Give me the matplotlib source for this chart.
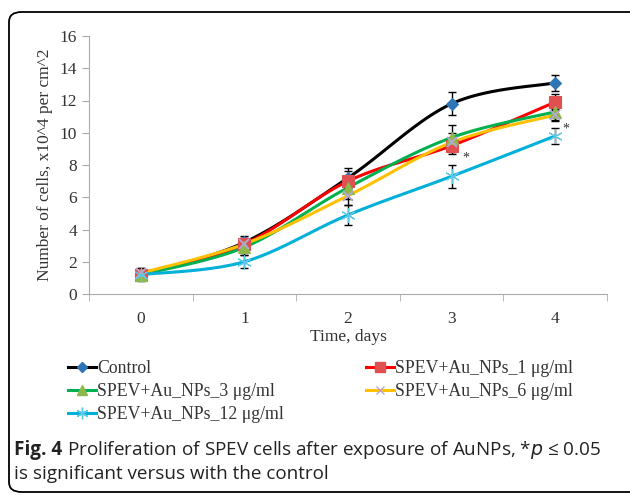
import numpy as np
import matplotlib
matplotlib.use("Agg")
import matplotlib.pyplot as plt
from matplotlib.patches import FancyBboxPatch
from matplotlib.lines import Line2D

days = [0, 1, 2, 3, 4]

control = [1.2, 3.2, 7.2, 11.8, 13.1]
control_err = [0.4, 0.4, 0.6, 0.7, 0.5]
au_1 = [1.2, 3.1, 7.0, 9.2, 11.9]
au_1_err = [0.3, 0.4, 0.6, 0.5, 0.5]
au_3 = [1.2, 2.9, 6.6, 9.7, 11.3]
au_3_err = [0.3, 0.5, 0.7, 0.8, 0.5]
au_6 = [1.3, 3.1, 6.1, 9.4, 11.1]
au_6_err = [0.3, 0.4, 0.6, 0.6, 0.4]
au_12 = [1.2, 2.0, 4.9, 7.3, 9.8]
au_12_err = [0.3, 0.4, 0.6, 0.7, 0.5]

labels = ["Control", "SPEV+Au_NPs_1 \u03bcg/ml", "SPEV+Au_NPs_3 \u03bcg/ml",
          "SPEV+Au_NPs_6 \u03bcg/ml", "SPEV+Au_NPs_12 \u03bcg/ml"]


def smooth(x, y, n=30):
    # excel style smoothed line: catmull-rom bezier between the points
    x = np.asarray(x, float)
    y = np.asarray(y, float)
    p = np.column_stack([x, y])
    out = []
    t = np.linspace(0, 1, n)[:, None]
    for i in range(len(p) - 1):
        p0 = p[max(i - 1, 0)]
        p1 = p[i]
        p2 = p[i + 1]
        p3 = p[min(i + 2, len(p) - 1)]
        c1 = p1 + (p2 - p0) / 6
        c2 = p2 - (p3 - p1) / 6
        seg = ((1 - t) ** 3) * p1 + 3 * ((1 - t) ** 2) * t * c1 + 3 * (1 - t) * t ** 2 * c2 + t ** 3 * p2
        out.append(seg)
    pts = np.vstack(out)
    return pts[:, 0], pts[:, 1]


series = [
    (control, control_err, "black", "D", "#2E75B6", 6.5),
    (au_1, au_1_err, "#FF0000", "s", "#E05050", 8.5),
    (au_3, au_3_err, "#00B050", "^", "#8DB84A", 8.5),
    (au_6, au_6_err, "#FFC000", "x", "#B4A7D6", 7.5),
    (au_12, au_12_err, "#00B0D8", (6, 2, 0), "#5BC8E8", 10.5),
]

plt.rcParams["font.family"] = ["Liberation Serif", "DejaVu Serif"]

fig = plt.figure(figsize=(6.3, 4.95), dpi=100)
ax = fig.add_axes([89 / 630, 1 - 294 / 495, (607 - 89) / 630, (294 - 36) / 495])

for vals, err, lc, mk, mc, ms in series:
    sx, sy = smooth(days, vals)
    ax.plot(sx, sy, color=lc, lw=2.2, zorder=2)
    ax.errorbar(days, vals, yerr=err, fmt="none", ecolor="black", elinewidth=1,
                capsize=3, capthick=1, zorder=3)
    ax.plot(days, vals, ls="none", marker=mk, color=mc, markersize=ms,
            markeredgewidth=1.3 if mk == "x" else 0.8, zorder=4)

ax.text(3.1, au_1[3] - 1.0, "*", fontsize=10, color="#333333")
ax.text(4.07, au_12[4] + 0.2, "*", fontsize=10, color="#333333")

ax.set_xlim(-0.5, 4.5)
ax.set_ylim(0, 16)
ax.set_yticks(range(0, 17, 2))
ax.set_xticks(days)
ax.set_xticks(np.arange(-0.5, 4.6, 1), minor=True)
ax.tick_params(axis="x", which="major", length=0, pad=12, labelsize=12.5, colors="#333333")
ax.tick_params(axis="x", which="minor", length=5, color="#AAAAAA", direction="out")
ax.tick_params(axis="y", length=5, color="#AAAAAA", labelsize=12.5, labelcolor="#333333")
for s in ["top", "right"]:
    ax.spines[s].set_visible(False)
ax.spines["left"].set_color("#AAAAAA")
ax.spines["bottom"].set_color("#AAAAAA")

ax.set_xlabel("Time, days", fontsize=12.5, color="#333333", labelpad=2)
ax.set_ylabel("Number of cells, x10^4 per cm^2", fontsize=12.5, color="#333333", labelpad=5)

handles = []
for (vals, err, lc, mk, mc, ms), lab in zip(series, labels):
    handles.append(Line2D([], [], color=lc, lw=2.2, marker=mk, markerfacecolor=mc,
                          markeredgecolor=mc, markersize=ms * 0.8, label=lab))
# legend fills column by column, so reorder to read row by row
order = [0, 2, 4, 1, 3]
fig.legend(handles=[handles[i] for i in order], loc="upper left",
           bbox_to_anchor=(68 / 630, 1 - 360 / 495),
           ncol=2, frameon=False, fontsize=12.8, handlelength=1.6, handletextpad=0.05,
           columnspacing=4.6, labelspacing=0.34, borderaxespad=0, borderpad=0,
           labelcolor="#333333")

box = FancyBboxPatch((9 / 630, 3 / 495), 640 / 630, 480 / 495,
                     boxstyle="round,pad=0,rounding_size=0.02",
                     transform=fig.transFigure, fill=False, ec="black", lw=1.3, clip_on=False)
fig.patches.append(box)

cap = "Open Sans"
fs = 13.6
t1 = fig.text(14 / 630, 1 - 450 / 495, "Fig. 4", fontsize=fs, fontweight="bold",
              family=cap, va="center", color="#222222")
fig.canvas.draw()
bb = t1.get_window_extent()
fig.text(bb.x1 / 630 + 0.008, 1 - 450 / 495,
         "Proliferation of SPEV cells after exposure of AuNPs, *$\\it{p}$ \u2264 0.05",
         fontsize=fs, family=cap, va="center", color="#222222")
fig.text(14 / 630, 1 - 474 / 495, "is significant versus with the control",
         fontsize=fs, family=cap, va="center", color="#222222")

fig.savefig("out.png", dpi=100)
